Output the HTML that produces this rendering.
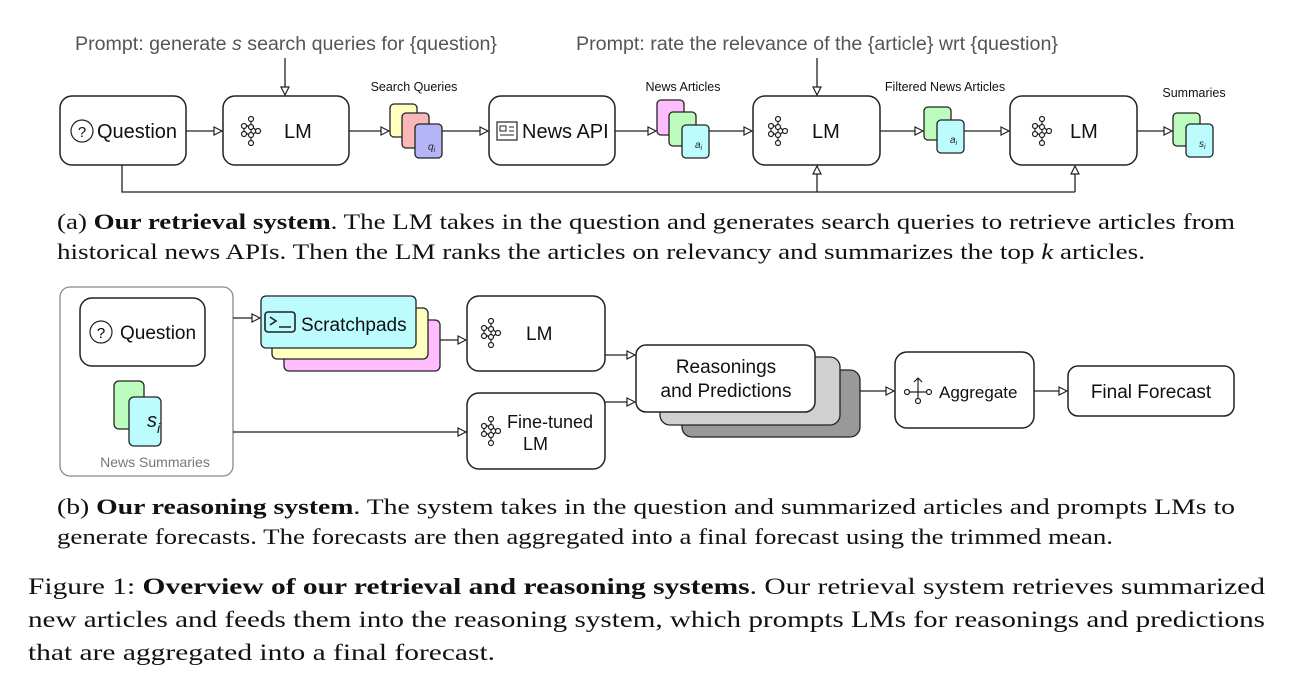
<!DOCTYPE html>
<html><head><meta charset="utf-8"><style>
body{margin:0;background:#fff;}
svg{display:block;}
.s{font-family:"Liberation Sans",sans-serif;}
.r{font-family:"Liberation Serif",serif;fill:#111;}
.b{fill:#fff;stroke:#222;stroke-width:1.5;}
</style></head><body>
<svg width="1292" height="685" viewBox="0 0 1292 685">
<defs>
<marker id="a" markerWidth="10" markerHeight="10" refX="9" refY="5" orient="auto" markerUnits="userSpaceOnUse">
<path d="M1,1 L9,5 L1,9 Z" fill="#fff" stroke="#222" stroke-width="1.2"/></marker>
<g id="nn" fill="none" stroke="#222" stroke-width="1.2">
<circle cx="0" cy="-12" r="2.5"/><circle cx="-7" cy="-5" r="2.5"/><circle cx="0" cy="-4" r="2.5"/><circle cx="-7" cy="3" r="2.5"/><circle cx="0" cy="4" r="2.5"/><circle cx="7" cy="0" r="2.5"/><circle cx="0" cy="12" r="2.5"/>
<path d="M0,-9.5V-6.5M-5,-6L-2,-4M-5,2L-2,4M0,-1.5V1.5M0,6.5V9.5M2.5,-3L5,-1M2.5,3L5,1M-7,-2.5V0.5"/></g>
</defs>
<g class="s" fill="#555" font-size="19">
<text x="75" y="50" textLength="422" lengthAdjust="spacingAndGlyphs">Prompt: generate <tspan font-style="italic">s</tspan> search queries for {question}</text>
<text x="576" y="50" textLength="482" lengthAdjust="spacingAndGlyphs">Prompt: rate the relevance of the {article} wrt {question}</text>
</g>
<g stroke="#222" stroke-width="1.3" fill="none" marker-end="url(#a)">
<path d="M285,58V95"/><path d="M817,58V95"/>
<path d="M186,131H222"/><path d="M349,131H389"/><path d="M441,131H488"/><path d="M615,131H656"/><path d="M708,131H752"/>
<path d="M880,131H923"/><path d="M964,131H1009"/><path d="M1137,131H1172"/>
<path d="M817,192V166"/><path d="M1075,192V166"/>
</g>
<path d="M122,165V192H1075" stroke="#222" stroke-width="1.3" fill="none"/>
<rect class="b" x="60" y="96" width="126" height="69" rx="12"/>
<rect class="b" x="223" y="96" width="126" height="69" rx="12"/>
<rect class="b" x="489" y="96" width="126" height="69" rx="12"/>
<rect class="b" x="753" y="96" width="127" height="69" rx="12"/>
<rect class="b" x="1010" y="96" width="127" height="69" rx="12"/>
<g class="s" fill="#111" font-size="20">
<circle cx="82" cy="131" r="11" fill="none" stroke="#222" stroke-width="1.2"/>
<text x="82" y="137" font-size="15" text-anchor="middle">?</text>
<text x="97" y="138">Question</text>
<use href="#nn" x="251" y="131"/><text x="284" y="138">LM</text>
<rect x="497" y="122" width="20" height="18" fill="none" stroke="#222" stroke-width="1.2"/>
<path d="M500,126h6v5h-6zM509,127h5M509,131h5M500,135h14" stroke="#222" fill="none"/>
<text x="522" y="138">News API</text>
<use href="#nn" x="778" y="131"/><text x="812" y="138">LM</text>
<use href="#nn" x="1042" y="131"/><text x="1070" y="138">LM</text>
</g>
<g class="s" fill="#111" font-size="12.5" text-anchor="middle">
<text x="414" y="91">Search Queries</text><text x="683" y="91">News Articles</text>
<text x="945" y="91">Filtered News Articles</text><text x="1194" y="97">Summaries</text>
</g>
<g stroke="#222" stroke-width="1.3">
<rect x="390" y="104" width="27" height="33" rx="4" fill="#ffffc0"/>
<rect x="402" y="113" width="27" height="35" rx="4" fill="#f8b8b8"/>
<rect x="415" y="124" width="27" height="34" rx="4" fill="#b4b4f6"/>
<rect x="657" y="100" width="27" height="35" rx="4" fill="#ffbcff"/>
<rect x="669" y="112" width="27" height="34" rx="4" fill="#bcfcbc"/>
<rect x="682" y="125" width="27" height="33" rx="4" fill="#bcfcff"/>
<rect x="924" y="107" width="27" height="33" rx="4" fill="#bcfcbc"/>
<rect x="937" y="120" width="27" height="33" rx="4" fill="#bcfcff"/>
<rect x="1173" y="113" width="27" height="33" rx="4" fill="#bcfcbc"/>
<rect x="1186" y="124" width="27" height="33" rx="4" fill="#bcfcff"/>
</g>
<g class="s" font-size="10" font-style="italic" fill="#222">
<text x="428" y="150">q<tspan font-size="7" dy="2">i</tspan></text>
<text x="695" y="148">a<tspan font-size="7" dy="2">i</tspan></text>
<text x="950" y="143">a<tspan font-size="7" dy="2">i</tspan></text>
<text x="1199" y="147">s<tspan font-size="7" dy="2">i</tspan></text>
</g>
<g class="r" font-size="22">
<text x="57" y="229" textLength="1178" lengthAdjust="spacingAndGlyphs">(a) <tspan font-weight="bold">Our retrieval system</tspan>. The LM takes in the question and generates search queries to retrieve articles from</text>
<text x="57" y="259" textLength="1088" lengthAdjust="spacingAndGlyphs">historical news APIs. Then the LM ranks the articles on relevancy and summarizes the top <tspan font-style="italic">k</tspan> articles.</text>
</g>
<!-- bottom -->
<rect x="60" y="287" width="173" height="189" rx="10" fill="#fff" stroke="#888" stroke-width="1.3"/>
<rect class="b" x="80" y="298" width="125" height="68" rx="12"/>
<circle cx="101" cy="332" r="11" fill="none" stroke="#222" stroke-width="1.2"/>
<text class="s" x="101" y="338" font-size="15" text-anchor="middle">?</text>
<text class="s" x="120" y="339" font-size="19" fill="#111">Question</text>
<rect x="114" y="381" width="30" height="48" rx="5" fill="#bcfcbc" stroke="#222" stroke-width="1.3"/>
<rect x="129" y="397" width="32" height="49" rx="5" fill="#bcfcff" stroke="#222" stroke-width="1.3"/>
<text class="s" x="147" y="427" font-size="20" font-style="italic" fill="#111">s<tspan font-size="14" dy="6">i</tspan></text>
<text class="s" x="155" y="467" font-size="14" fill="#777" text-anchor="middle">News Summaries</text>
<g stroke="#222" stroke-width="1.3">
<rect x="284" y="320" width="156" height="51" rx="5" fill="#ffbcff"/>
<rect x="272" y="308" width="156" height="51" rx="5" fill="#ffffc0"/>
<rect x="261" y="296" width="155" height="52" rx="5" fill="#bcfcff"/>
<rect x="682" y="370" width="178" height="67" rx="10" fill="#999"/>
<rect x="660" y="357" width="180" height="68" rx="10" fill="#d0d0d0"/>
</g>
<rect x="265" y="312" width="30" height="20" rx="3" fill="none" stroke="#222" stroke-width="1.6"/>
<path d="M270,317l6,4l-6,4M279,327h12" stroke="#222" stroke-width="1.6" fill="none"/>
<text class="s" x="301" y="331" font-size="19" fill="#111">Scratchpads</text>
<g stroke="#222" stroke-width="1.3" fill="none" marker-end="url(#a)">
<path d="M233,318H260"/><path d="M440,340H466"/><path d="M233,432H466"/>
<path d="M605,355H635"/><path d="M605,402H635"/><path d="M860,391H894"/><path d="M1034,391H1067"/>
</g>
<rect class="b" x="467" y="296" width="138" height="75" rx="12"/>
<rect class="b" x="467" y="393" width="138" height="76" rx="12"/>
<rect class="b" x="636" y="345" width="179" height="67" rx="10"/>
<rect class="b" x="895" y="352" width="139" height="76" rx="12"/>
<rect class="b" x="1068" y="366" width="166" height="50" rx="10"/>
<g class="s" fill="#111" font-size="19">
<use href="#nn" x="491" y="333"/><text x="526" y="340">LM</text>
<use href="#nn" x="491" y="431"/><text x="507" y="428" font-size="18">Fine-tuned</text><text x="523" y="450" font-size="18">LM</text>
<text x="726" y="373" text-anchor="middle">Reasonings</text><text x="726" y="397" text-anchor="middle">and Predictions</text>
<text x="939" y="398" font-size="17">Aggregate</text>
<text x="1151" y="398" text-anchor="middle">Final Forecast</text>
</g>
<g stroke="#222" stroke-width="1.2" fill="none">
<path d="M918,378V398M914,382l4,-4l4,4M910,392H926"/>
<circle cx="907" cy="392" r="2.5" fill="#fff"/><circle cx="929" cy="392" r="2.5" fill="#fff"/><circle cx="918" cy="401" r="2.5" fill="#fff"/>
</g>
<g class="r" font-size="22">
<text x="57" y="514" textLength="1178" lengthAdjust="spacingAndGlyphs">(b) <tspan font-weight="bold">Our reasoning system</tspan>. The system takes in the question and summarized articles and prompts LMs to</text>
<text x="57" y="544" textLength="1056" lengthAdjust="spacingAndGlyphs">generate forecasts. The forecasts are then aggregated into a final forecast using the trimmed mean.</text>
</g>
<g class="r" font-size="23">
<text x="28" y="594" textLength="1237" lengthAdjust="spacingAndGlyphs">Figure 1: <tspan font-weight="bold">Overview of our retrieval and reasoning systems</tspan>. Our retrieval system retrieves summarized</text>
<text x="28" y="627" textLength="1237" lengthAdjust="spacingAndGlyphs">new articles and feeds them into the reasoning system, which prompts LMs for reasonings and predictions</text>
<text x="28" y="660" textLength="467" lengthAdjust="spacingAndGlyphs">that are aggregated into a final forecast.</text>
</g>
</svg>
</body></html>
